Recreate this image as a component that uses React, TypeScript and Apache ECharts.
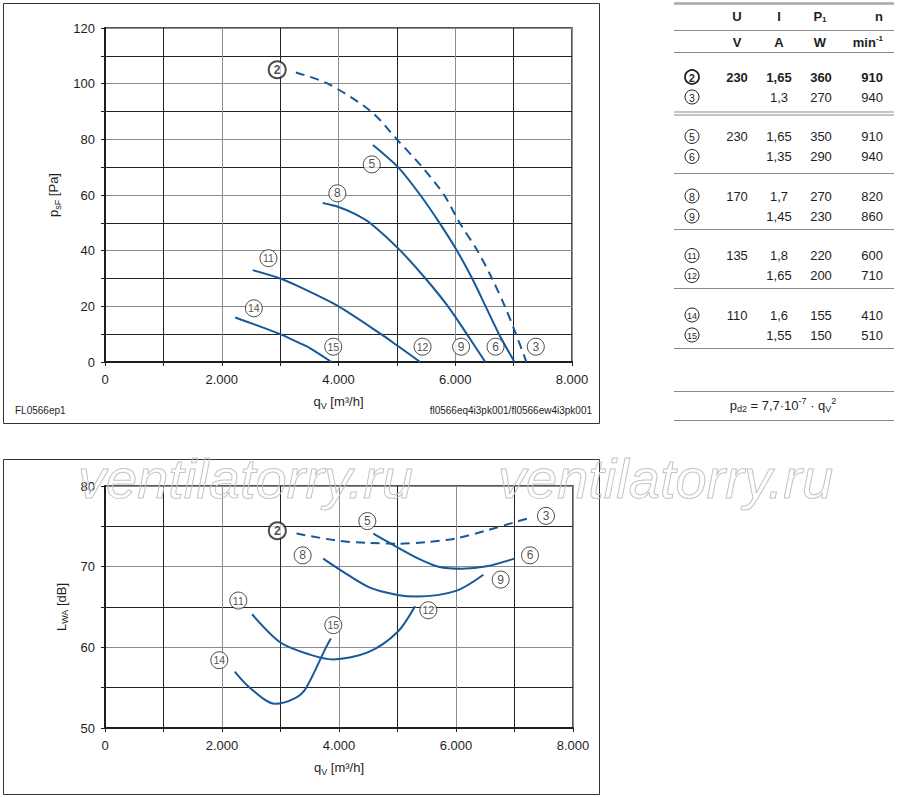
import React, { useEffect, useRef } from 'react';
import * as echarts from 'echarts';

const FONT = '"Liberation Sans", Arial, Helvetica, sans-serif';
const BLUE = '#16599a';
const INK = '#1e1e1e';

// ---- tick labels ----
const flowTickLabels = ['0', '2.000', '4.000', '6.000', '8.000'];
const pressureTickLabels = ['0', '20', '40', '60', '80', '100', '120'];
const soundTickLabels = ['50', '60', '70', '80'];

// ---- pressure curves [qV m3/h, psF Pa] ----
const press23 = [[3270, 104], [3817, 100], [4559, 90], [5000, 80], [5435, 70], [5810, 60], [6075, 50], [6380, 40], [6630, 30], [6850, 20], [7040, 10], [7220, 0]];
const press56 = [[4590, 78], [5020, 70], [5400, 60], [5730, 50], [6030, 40], [6290, 30], [6520, 20], [6750, 10], [7015, 0]];
const press89 = [[3730, 57.1], [4000, 55.7], [4270, 53.3], [4535, 50], [5060, 40], [5490, 30], [5875, 20], [6200, 10], [6515, 0]];
const press1112 = [[2530, 33], [3000, 30], [3333, 27], [4000, 20], [4730, 10], [5000, 6], [5400, 0]];
const press1415 = [[2230, 16], [3000, 10], [3333, 6.8], [3510, 5], [3880, 0]];

// ---- sound curves [qV m3/h, LWA dB] ----
const sound23 = [[3274, 74.1], [4000, 73.2], [4500, 72.95], [5000, 72.85], [5500, 73.05], [6000, 73.5], [6525, 74.5], [7000, 75.5], [7240, 76.0]];
const sound56 = [[4586, 74.1], [5000, 72.4], [5385, 70.9], [5700, 70.0], [6100, 69.75], [6525, 70.05], [7000, 71.0]];
const sound89 = [[3730, 71.0], [4000, 69.7], [4529, 67.4], [5000, 66.5], [5327, 66.3], [6000, 67.0], [6468, 69.0]];
const sound1112 = [[2515, 64.1], [3000, 60.6], [3502, 59.1], [3900, 58.5], [4500, 59.4], [5000, 61.9], [5299, 65.1]];
const sound1415 = [[2218, 57.0], [2475, 55.0], [2903, 53.0], [3250, 53.7], [3440, 55.0], [3778, 60.0], [3861, 61.1]];

// ---- curve markers ----
const pressMarkIds = ['2', '5', '8', '11', '14', '15', '12', '9', '6', '3'];
const pressMarkQ = [2950, 4570, 3980, 2800, 2550, 3910, 5440, 6100, 6690, 7380];
const pressMarkP = [105, 71, 60.6, 37.3, 19.3, 5.5, 5.5, 5.5, 5.5, 5.5];
const soundMarkIds = ['2', '5', '3', '8', '6', '9', '11', '12', '15', '14'];
const soundMarkQ = [2946, 4484, 7538, 3379, 7265, 6764, 2279, 5527, 3903, 1954];
const soundMarkL = [74.45, 75.65, 76.3, 71.4, 71.4, 68.4, 65.8, 64.6, 62.75, 58.4];

// ---- table ----
const tableIds = ['2', '3', '5', '6', '8', '9', '11', '12', '14', '15'];
const tableU = ['230', '', '230', '', '170', '', '135', '', '110', ''];
const tableI = ['1,65', '1,3', '1,65', '1,35', '1,7', '1,45', '1,8', '1,65', '1,6', '1,55'];
const tableP = ['360', '270', '350', '290', '270', '230', '220', '200', '155', '150'];
const tableN = ['910', '940', '910', '940', '820', '860', '600', '710', '410', '510'];

const fmtTick = (labels: string[], min: number, step: number) => (v: number) => {
  const k = (v - min) / step;
  return Number.isInteger(k) && labels[k] !== undefined ? labels[k] : '';
};

const subRich = {
  a: { fontSize: 13, fontFamily: FONT, color: INK },
  s: { fontSize: 9, fontFamily: FONT, color: INK, padding: [8, 0, 0, 0] },
};

function curve(data: number[][], axis: number, dashed: boolean) {
  return {
    type: 'line',
    xAxisIndex: axis,
    yAxisIndex: axis,
    data,
    showSymbol: false,
    smooth: 0.3,
    silent: true,
    lineStyle: { color: BLUE, width: 2, type: dashed ? [9, 6] : 'solid' },
    z: 3,
  };
}

function markers(ids: string[], xs: number[], ys: number[], axis: number) {
  return {
    type: 'scatter',
    xAxisIndex: axis,
    yAxisIndex: axis,
    silent: true,
    clip: false,
    z: 5,
    symbol: 'circle',
    symbolSize: 17,
    data: ids.map((id, i) => ({
      name: id,
      value: [xs[i], ys[i]],
      itemStyle: { borderWidth: id === '2' ? 2 : 1 },
      label: {
        fontWeight: id === '2' ? 'bold' : 'normal',
        fontSize: id.length > 1 ? 10.5 : 12,
      },
    })),
    itemStyle: { color: '#fff', borderColor: INK, borderWidth: 1 },
    label: {
      show: true,
      position: 'inside',
      formatter: '{b}',
      color: INK,
      fontFamily: FONT,
    },
  };
}

function xAxisCfg(grid: number) {
  return {
    gridIndex: grid,
    type: 'value',
    min: 0,
    max: 8000,
    interval: 1000,
    axisLine: { show: true, onZero: false, lineStyle: { color: INK, width: 2 } },
    axisTick: { show: true, length: 4, lineStyle: { color: INK } },
    axisLabel: { formatter: fmtTick(flowTickLabels, 0, 2000), margin: 11, color: INK, fontSize: 13, fontFamily: FONT },
    splitLine: { show: true, lineStyle: { color: ['#8c8c8c', '#222'], width: 1 } },
    name: '{a|q}{s|V}{a| [m³/h]}',
    nameLocation: 'middle',
    nameGap: 31,
    nameTextStyle: { rich: subRich },
  };
}

function yAxisCfg(grid: number, min: number, max: number, step: number, labels: string[], labelStep: number, name: string, gap: number) {
  return {
    gridIndex: grid,
    type: 'value',
    min,
    max,
    interval: step,
    axisLine: { show: true, onZero: false, lineStyle: { color: INK, width: 2 } },
    axisTick: { show: true, length: 4, lineStyle: { color: INK } },
    axisLabel: { formatter: fmtTick(labels, min, labelStep), margin: 10, color: INK, fontSize: 13, fontFamily: FONT },
    splitLine: { show: true, lineStyle: { color: ['#8c8c8c', '#222'], width: 1 } },
    name,
    nameLocation: 'middle',
    nameRotate: 90,
    nameGap: gap,
    nameTextStyle: { rich: subRich },
  };
}

function txt(x: number, y: number, text: string, opts: any = {}) {
  const align = opts.align || 'center';
  return {
    type: 'text',
    x,
    y,
    z: opts.z || 10,
    silent: true,
    style: {
      text,
      fontFamily: FONT,
      fontSize: opts.size || 13,
      fontWeight: opts.bold ? 'bold' : 'normal',
      fill: opts.fill || INK,
      align,
      textAlign: align,
      verticalAlign: 'middle',
      textVerticalAlign: 'middle',
      rich: opts.rich,
    },
  };
}

function hline(x1: number, x2: number, y: number, color = '#8a8a8a', w = 1) {
  return {
    type: 'line',
    silent: true,
    shape: { x1, y1: y, x2, y2: y },
    style: { stroke: color, lineWidth: w },
  };
}

function buildTable() {
  const els: any[] = [];
  const L = 674, R = 894;
  const supRich = {
    b: { fontSize: 13, fontFamily: FONT, fontWeight: 'bold', color: INK },
    s: { fontSize: 8, fontFamily: FONT, fontWeight: 'bold', color: INK, padding: [7, 0, 0, 0] },
    u: { fontSize: 8, fontFamily: FONT, fontWeight: 'bold', color: INK, padding: [0, 0, 8, 0] },
  };
  els.push(hline(L, R, 3.5, '#a8a8a8', 2.5));
  els.push(txt(737, 16, 'U', { bold: true }));
  els.push(txt(779, 16, 'I', { bold: true }));
  els.push(txt(820, 16, '{b|P}{s|1}', { rich: supRich }));
  els.push(txt(883, 16, 'n', { bold: true, align: 'right' }));
  els.push(hline(L, R, 30.5));
  els.push(txt(737, 42, 'V', { bold: true }));
  els.push(txt(779, 42, 'A', { bold: true }));
  els.push(txt(820, 42, 'W', { bold: true }));
  els.push(txt(883, 42, '{b|min}{u|-1}', { rich: supRich, align: 'right' }));
  els.push(hline(L, R, 52.5));

  tableIds.forEach((id, i) => {
    const g = Math.floor(i / 2);
    const y = 77 + g * 59.5 + (i % 2) * 20;
    const bold = i === 0;
    els.push({
      type: 'circle',
      silent: true,
      z: 10,
      shape: { cx: 692, cy: y, r: 7 },
      style: { fill: '#fff', stroke: INK, lineWidth: bold ? 1.8 : 1 },
    });
    els.push(txt(692, y + 0.5, id, { size: id.length > 1 ? 9 : 10.5, bold, z: 11 }));
    if (tableU[i]) els.push(txt(737, y, tableU[i], { bold }));
    els.push(txt(779, y, tableI[i], { bold }));
    els.push(txt(821, y, tableP[i], { bold }));
    els.push(txt(883, y, tableN[i], { bold, align: 'right' }));
  });
  els.push(hline(L, R, 112));
  els.push(hline(L, R, 115));
  els.push(hline(L, R, 173.5));
  els.push(hline(L, R, 229.5));
  els.push(hline(L, R, 288.5));
  els.push(hline(L, R, 348.5));
  els.push(hline(L, R, 391.5));
  els.push(hline(L, R, 420.5));
  const fRich = {
    a: { fontSize: 13, fontFamily: FONT, color: INK },
    s: { fontSize: 9, fontFamily: FONT, color: INK, padding: [8, 0, 0, 0] },
    u: { fontSize: 9, fontFamily: FONT, color: INK, padding: [0, 0, 9, 0] },
  };
  els.push(txt(783, 405, '{a|p}{s|d2}{a| = 7,7·10}{u|-7}{a| · q}{s|V}{u|2}', { rich: fRich }));
  return els;
}

function watermark(x: number) {
  return {
    type: 'text', silent: true, z: 20, x, y: 478,
    style: {
      text: 'ventilatorry.ru', font: 'italic 56px "Liberation Sans", Arial, sans-serif',
      fill: 'rgba(255,255,255,0)', stroke: '#c4c4c4', lineWidth: 1,
      align: 'left', textAlign: 'left', verticalAlign: 'middle', textVerticalAlign: 'middle',
    },
  };
}

export default function App() {
  const ref = useRef<HTMLDivElement>(null);
  useEffect(() => {
    if (!ref.current) return;
    const chart = echarts.init(ref.current, undefined, { renderer: 'svg' });
    const option: any = {
      animation: false,
      backgroundColor: '#fff',
      textStyle: { fontFamily: FONT },
      grid: [
        { left: 105, top: 28, width: 467, height: 334, show: true, borderColor: INK, borderWidth: 1.5, backgroundColor: 'transparent' },
        { left: 105, top: 486, width: 468, height: 242, show: true, borderColor: INK, borderWidth: 1.5, backgroundColor: 'transparent' },
      ],
      xAxis: [xAxisCfg(0), xAxisCfg(1)],
      yAxis: [
        yAxisCfg(0, 0, 120, 10, pressureTickLabels, 20, '{a|p}{s|sF}{a| [Pa]}', 36),
        yAxisCfg(1, 50, 80, 5, soundTickLabels, 10, '{a|L}{s|WA}{a| [dB]}', 34),
      ],
      series: [
        curve(press23, 0, true),
        curve(press56, 0, false),
        curve(press89, 0, false),
        curve(press1112, 0, false),
        curve(press1415, 0, false),
        curve(sound23, 1, true),
        curve(sound56, 1, false),
        curve(sound89, 1, false),
        curve(sound1112, 1, false),
        curve(sound1415, 1, false),
        markers(pressMarkIds, pressMarkQ, pressMarkP, 0),
        markers(soundMarkIds, soundMarkQ, soundMarkL, 1),
      ],
      graphic: [
        {
          type: 'rect', silent: true, z: 1,
          shape: { x: 3.5, y: 3.5, width: 596, height: 420 },
          style: { fill: 'none', stroke: '#333', lineWidth: 1 },
        },
        {
          type: 'rect', silent: true, z: 1,
          shape: { x: 3.5, y: 459.5, width: 596, height: 335 },
          style: { fill: 'none', stroke: '#333', lineWidth: 1 },
        },
        txt(15, 410, 'FL0566ep1', { size: 10, align: 'left' }),
        txt(592, 410, 'fl0566eq4i3pk001/fl0566ew4i3pk001', { size: 10, align: 'right' }),
        watermark(78),
        watermark(498),
        ...buildTable(),
      ],
    };
    chart.setOption(option);
    return () => chart.dispose();
  }, []);
  return <div ref={ref} style={{ position: 'fixed', left: 0, top: 0, width: 900, height: 797, background: '#fff' }} />;
}
